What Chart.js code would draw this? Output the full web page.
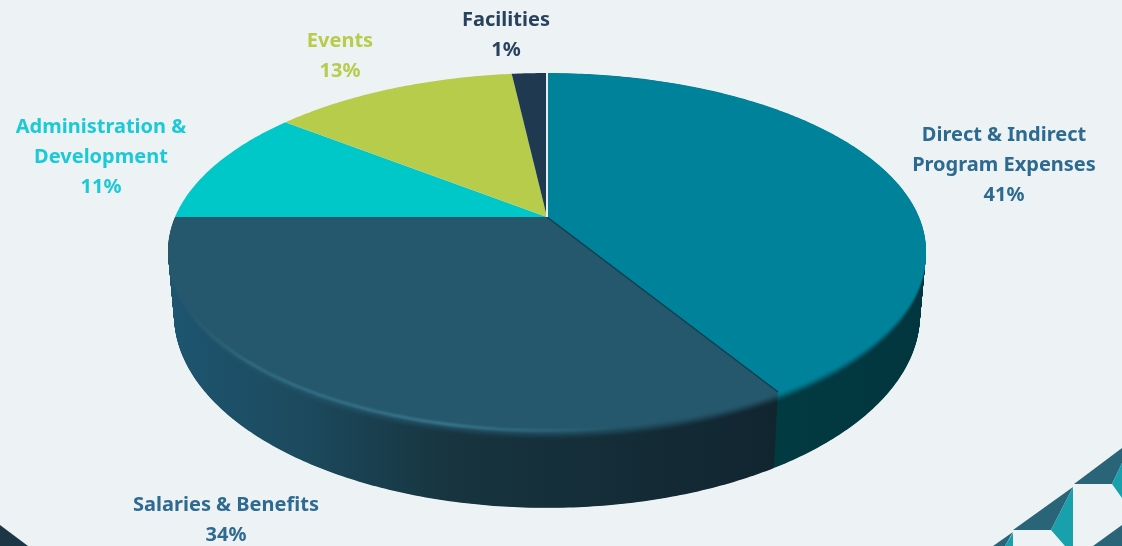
<!DOCTYPE html>
<html>
<head>
<meta charset="utf-8">
<title>Expenses</title>
<script src="https://cdn.jsdelivr.net/npm/chart.js@4"></script>
<style>
  html, body { margin: 0; padding: 0; background: #edf3f5; overflow: hidden; }
  #pie-chart { display: block; }
</style>
</head>
<body>
<canvas id="pie-chart" width="1122" height="546"></canvas>
<script>
const categories = ["Direct & Indirect Program Expenses", "Salaries & Benefits", "Administration & Development", "Events", "Facilities"];
// slice sizes as they look in the picture, the printed labels are rounded
const sliceValues = [41.3, 33.7, 10.6, 12.6, 1.8];
const percentLabels = ["41%", "34%", "11%", "13%", "1%"];
const faceColors = ["#00829a", "#25586c", "#00c8c8", "#b8cc4c", "#1f3a50"];

// label text lines and where they sit
const labelBlocks = [
  { lines: ["Direct & Indirect", "Program Expenses"], x: 1004, y: 135, color: "#2c6a90" },
  { lines: ["Salaries & Benefits"], x: 226, y: 505, color: "#2f6a90" },
  { lines: ["Administration &", "Development"], x: 101, y: 127, color: "#1cc9d6" },
  { lines: ["Events"], x: 340, y: 41, color: "#b8cc4c" },
  { lines: ["Facilities"], x: 506, y: 20, color: "#28425e" },
];

// side wall colours, left to right
const wallStops = [
  [[780, "#023a42"], [925, "#02363f"]],
  [[170, "#1d5570"], [300, "#1c4a5e"], [450, "#17343f"], [780, "#11252f"]],
];

// perspective of the disc: circle (u, v) to screen
const disc = { cx: 547, apexY: 217, a: 130, c: -0.191, d: 372, midY: 251, depth: 64 };
const LAYER_STEP = 0.5;
const BEVEL = 0.15;

function project(u, v, t) {
  const w = 1 + disc.c * v;
  const x = disc.d * u / w;
  const y = (disc.a * v + disc.apexY) / w;
  return [
    disc.cx + x * (1 - 0.016 * t),
    disc.midY + disc.depth * t + (y - disc.midY) * (1 + 0.084 * t),
  ];
}

function wedgePath(ctx, arc, t) {
  const start = arc.startAngle;
  const end = arc.endAngle;
  const steps = Math.max(8, Math.ceil((end - start) * 90));
  ctx.beginPath();
  const c = project(0, 0, t);
  ctx.moveTo(c[0], c[1]);
  for (let i = 0; i <= steps; i++) {
    const a = start + (end - start) * i / steps;
    const p = project(Math.cos(a), Math.sin(a), t);
    ctx.lineTo(p[0], p[1]);
  }
  ctx.closePath();
}

function hexToRgb(hex) {
  return [1, 3, 5].map(i => parseInt(hex.slice(i, i + 2), 16));
}

function mix(a, b, k) {
  const ra = hexToRgb(a);
  const rb = hexToRgb(b);
  return "rgb(" + ra.map((v, i) => Math.round(v + (rb[i] - v) * k)).join(",") + ")";
}

function wallPaint(ctx, index, k) {
  const stops = wallStops[index];
  const from = stops[0][0];
  const to = stops[stops.length - 1][0];
  const g = ctx.createLinearGradient(from, 0, to, 0);
  stops.forEach(s => g.addColorStop((s[0] - from) / (to - from), mix(s[1], faceColors[index], k)));
  return g;
}

const perspectivePie = {
  id: "perspectivePie",
  // the library lays out the angles, this draws them as a tilted disc
  beforeDatasetDraw(chart, args) {
    const ctx = chart.ctx;
    const arcs = args.meta.data;
    const layers = Math.round(disc.depth / LAYER_STEP);

    for (let n = layers; n > 0; n--) {
      const t = n / layers;
      const s = Math.min(1, t / BEVEL);
      const k = 1 - s * s * (3 - 2 * s);
      arcs.forEach((arc, i) => {
        if (i > 1) return;
        wedgePath(ctx, arc, t);
        ctx.fillStyle = wallPaint(ctx, i, k);
        ctx.fill();
      });
    }

    arcs.forEach((arc, i) => {
      wedgePath(ctx, arc, 0);
      ctx.fillStyle = faceColors[i];
      ctx.fill();
    });

    // light rim on the front left of the navy slice
    const navy = arcs[1];
    const rim = ctx.createLinearGradient(185, 0, 620, 0);
    rim.addColorStop(0, "rgba(70,140,165,0)");
    rim.addColorStop(0.15, "rgba(70,140,165,0.45)");
    rim.addColorStop(0.6, "rgba(70,140,165,0.7)");
    rim.addColorStop(1, "rgba(70,140,165,0)");
    ctx.save();
    ctx.filter = "blur(1px)";
    ctx.strokeStyle = rim;
    ctx.lineWidth = 2.5;
    ctx.beginPath();
    for (let i = 0; i <= 200; i++) {
      const a = navy.startAngle + (navy.endAngle - navy.startAngle) * i / 200;
      const p = project(Math.cos(a), Math.sin(a), 0.02);
      if (i === 0) ctx.moveTo(p[0], p[1]);
      else ctx.lineTo(p[0], p[1]);
    }
    ctx.stroke();
    ctx.restore();

    // seams: dark between teal and navy, pale at twelve o'clock
    const apex = project(0, 0, 0);
    const seam = project(Math.cos(arcs[0].endAngle), Math.sin(arcs[0].endAngle), 0);
    ctx.strokeStyle = "#0e3f50";
    ctx.lineWidth = 1.5;
    ctx.beginPath();
    ctx.moveTo(apex[0], apex[1]);
    ctx.lineTo(seam[0], seam[1]);
    ctx.stroke();
    const top = project(Math.cos(arcs[0].startAngle), Math.sin(arcs[0].startAngle), 0);
    ctx.strokeStyle = "#e6eef0";
    ctx.lineWidth = 2;
    ctx.beginPath();
    ctx.moveTo(apex[0], apex[1]);
    ctx.lineTo(top[0], top[1]);
    ctx.stroke();
    return false;
  },
  afterDraw(chart) {
    const ctx = chart.ctx;
    ctx.save();
    ctx.font = "bold 20px 'Noto Sans'";
    ctx.textAlign = "center";
    ctx.textBaseline = "middle";
    labelBlocks.forEach((block, i) => {
      ctx.fillStyle = block.color;
      const lines = block.lines.concat(percentLabels[i]);
      lines.forEach((line, n) => ctx.fillText(line, block.x, block.y + n * 30));
    });
    ctx.restore();
  },
  beforeDraw(chart) {
    const ctx = chart.ctx;
    const shapes = [
      ["#1c3646", [[0, 525], [28, 546], [0, 546]]],
      ["#2a6478", [[1122, 448], [1074, 484], [1112, 484], [1122, 463]]],
      ["#18a0ac", [[1112, 484], [1122, 463], [1122, 498]]],
      ["#2a6478", [[1073, 487], [1013, 530], [1051, 530]]],
      ["#18a0ac", [[1073, 487], [1051, 530], [1065, 546], [1073, 546]]],
      ["#2a6478", [[993, 546], [1013, 532], [1005, 546]]],
      ["#18a0ac", [[1013, 533], [1013, 546], [1005, 546]]],
      ["#2a6478", [[1093, 546], [1122, 525], [1122, 546]]],
    ];
    shapes.forEach(([color, pts]) => {
      ctx.fillStyle = color;
      ctx.beginPath();
      pts.forEach((p, i) => (i ? ctx.lineTo(p[0], p[1]) : ctx.moveTo(p[0], p[1])));
      ctx.closePath();
      ctx.fill();
    });
  },
};

new Chart(document.getElementById("pie-chart").getContext("2d"), {
  type: "pie",
  data: {
    labels: categories,
    datasets: [{ data: sliceValues, backgroundColor: faceColors, borderWidth: 0 }],
  },
  options: {
    responsive: false,
    animation: false,
    plugins: {
      legend: { display: false },
      tooltip: { enabled: false },
    },
  },
  plugins: [perspectivePie],
});
</script>
</body>
</html>
